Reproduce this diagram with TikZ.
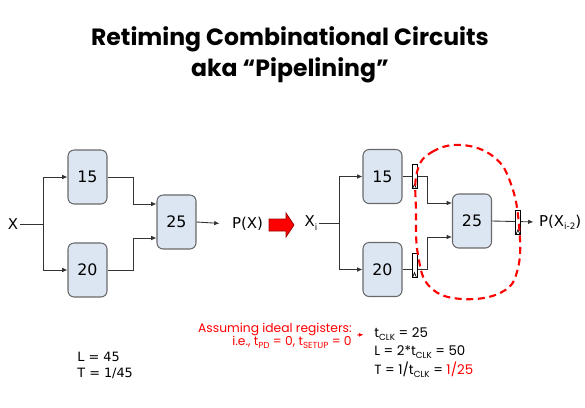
\documentclass[tikz,border=0pt]{standalone}
\usepackage{fontspec}
\setmainfont{DejaVu Sans}
\newfontfamily\comicfont{Poppins}
\usetikzlibrary{calc}
\usetikzlibrary{arrows.meta}

\definecolor{boxfill}{RGB}{220,230,242}
\definecolor{boxline}{RGB}{105,105,105}
\definecolor{slidered}{RGB}{255,0,0}

\newcommand{\lowsub}[1]{\raisebox{-0.4ex}{\fontsize{5}{6}\selectfont #1}}

\tikzset{
  comb/.style={draw=boxline, fill=boxfill, rounded corners=3.5pt, line width=0.6pt,
    minimum width=0.78cm, minimum height=1.08cm, inner sep=0pt, font=\fontsize{9}{10}\selectfont},
  reg/.style={draw=black, fill=white, line width=0.5pt, minimum width=0.1cm,
    minimum height=0.48cm, inner sep=0pt,
    path picture={\draw[line width=0.4pt] ([xshift=0.4pt]path picture bounding box.south west)
      -- ([yshift=2.5pt]path picture bounding box.south)
      -- ([xshift=-0.4pt]path picture bounding box.south east);}},
  wire/.style={draw=black!80, line width=0.5pt},
  sig/.style={wire, -{Latex[length=3pt,width=2.6pt]}},
  lbl/.style={font=\fontsize{8.5}{10}\selectfont, inner sep=1pt},
  note/.style={font=\comicfont\fontsize{7.6}{9}\selectfont, inner sep=0pt},
}

\begin{document}
\begin{tikzpicture}[x=0.02cm, y=-0.02cm]
    \useasboundingbox (0,0) rectangle (585,407);

    % Title
    \node[font=\comicfont\bfseries\fontsize{13.4}{17.5}\selectfont, align=center] (title) at (290,55)
        {Retiming Combinational Circuits\\aka “Pipelining”};

    % Combinational circuit
    \node[lbl] (x) at (13,224) {X};
    \node[comb] (a15) at (87.5,177) {15};
    \node[comb] (b20) at (87.5,270) {20};
    \node[comb] (c25) at (176.5,222) {25};
    \node[lbl, anchor=west] (px) at (230,224) {P(X)};
    \coordinate (xsplit) at (43,224);

    \draw[wire] (x) -- (xsplit);
    \draw[sig] (xsplit) |- (a15.west);
    \draw[sig] (xsplit) |- (b20.west);
    \draw[sig] (a15.east) -- ++(26,0) |- ($(c25.west)+(0,-18)$);
    \draw[sig] (b20.east) -- ++(26,0) |- ($(c25.west)+(0,16)$);
    \draw[sig, shorten >=6pt] (c25.east) -- (px.west);

    % Red arrow
    \filldraw[fill=slidered, draw=red!60!black, line width=0.4pt]
        (269,219) -- (286,219) -- (286,213) -- (294,225) -- (286,237) -- (286,231) -- (269,231) -- cycle;

    % Pipelined circuit
    \node[lbl] (xi) at (311,223) {X\lowsub{i}};
    \node[comb] (ra15) at (382.5,176.5) {15};
    \node[comb] (rb20) at (382.5,269.5) {20};
    \node[comb] (rc25) at (472,221) {25};
    \node[lbl, anchor=west] (pxi) at (537,222) {P(X\lowsub{i-2})};
    \coordinate (xisplit) at (339,223);

    \draw[wire] (xi) -- (xisplit);
    \draw[sig] (xisplit) |- (ra15.west);
    \draw[sig] (xisplit) |- (rb20.west);
    \draw[sig] (ra15.east) -- ++(25,0) |- ($(rc25.west)+(0,-18)$);
    \draw[sig] (rb20.east) -- ++(25,0) |- ($(rc25.west)+(0,16)$);
    \draw[sig, shorten >=2pt] (rc25.east) -- (pxi.west);

    \node[reg] (reg1) at (414.5,176.5) {};
    \node[reg] (reg2) at (414.5,265) {};
    \node[reg] (reg3) at (518,222) {};

    % Retimed region
    \draw[slidered, line width=1.2pt, dash pattern=on 4pt off 2.6pt]
        plot[smooth cycle, tension=0.7] coordinates {(417,172) (432,152) (462,145) (494,157) (511,184)
        (519,225) (518,268) (502,292) (462,299) (430,287) (418,255) (416,212)};

    % Numbers
    \node[font=\fontsize{7.3}{8}\selectfont, anchor=west, inner sep=0pt] (lat) at (77,357) {L = 45};
    \node[font=\fontsize{7.3}{8}\selectfont, anchor=west, inner sep=0pt] (thr) at (77,373) {T = 1/45};

    \node[note, text=slidered, anchor=east, font=\comicfont\fontsize{7}{8}\selectfont] (assume) at (352,329)
        {Assuming ideal registers:};
    \node[note, text=slidered, anchor=east, font=\comicfont\fontsize{7}{8}\selectfont] (ie) at (352,342)
        {i.e., t\lowsub{PD} = 0, t\lowsub{SETUP} = 0};
    \node[note, anchor=west] (tclk) at (374,334) {t\lowsub{CLK} = 25};
    \node[note, anchor=west] (lnew) at (374,352) {L = 2*t\lowsub{CLK} = 50};
    \node[note, anchor=west] (tnew) at (374,370) {T = 1/t\lowsub{CLK} = \textcolor{slidered}{1/25}};
    \draw[-{Latex[length=2.5pt,width=2.2pt]}, slidered, line width=0.5pt, shorten >=6pt] (357,335) -- (tclk.west);

\end{tikzpicture}
\end{document}
